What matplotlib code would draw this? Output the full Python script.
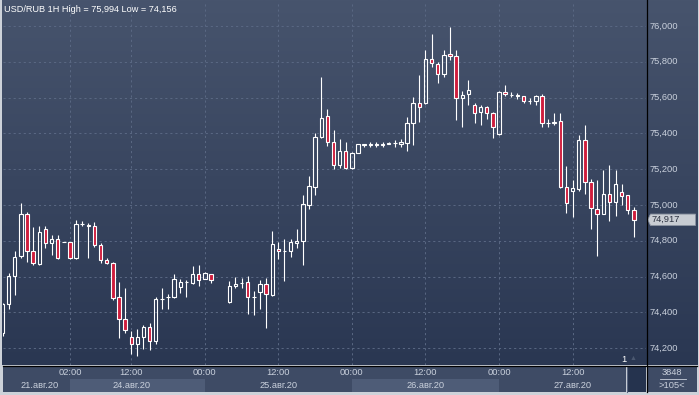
import matplotlib
matplotlib.use("Agg")
import matplotlib.pyplot as plt
import numpy as np
from matplotlib.colors import LinearSegmentedColormap
from matplotlib.lines import Line2D
from matplotlib.patches import Polygon, Rectangle

nan = np.nan

# hourly candles, one slot per hour (two empty slots early on 25 Aug)
opens = [74286, 74445, 74602, 74713, 74951, 74740, 74671, 74866, 74790, 74807,
         74792, 74792, 74704, 74892, 74886, 74885, 74779, 74690, 74673, 74485,
         74361, 74264, 74222, 74264, 74316, 74242, 74474, 74484, 74485, 74539,
         74568, 74565, 74612, 74587, 74612, nan, nan,
         74459, 74545, 74562, 74567, 74486, 74511, 74556, 74496, 74756, 74744,
         74741, 74790, 74801, 75002, 75102, 75378, 75497, 75352, 75224, 75302,
         75208, 75291, 75337, 75337, 75338, 75332, 75343, 75347, 75343, 75345,
         75458, 75567, 75567,
         75815, 75787, 75731, 75843, 75831, 75598, 75618, 75559, 75517, 75549,
         75514, 75397, 75629, 75616, 75612, 75606, 75581, 75581, 75610, 75458,
         75460, 75469, 75100, 75080, 75088, 75364, 75130, 74979, 74951, 75063,
         75016, 75072, 75057, 74974]
highs = [74450, 74621, 74741, 75010, 74960, 74877, 74881, 74885, 74834, 74831,
         74792, 74795, 74918, 74908, 74899, 74903, 74788, 74706, 74684, 74569,
         74535, 74296, 74305, 74328, 74339, 74487, 74535, 74502, 74617, 74587,
         74580, 74658, 74662, 74628, 74615, nan, nan,
         74573, 74597, 74593, 74602, 74519, 74580, 74591, 74853, 74795, 74807,
         74812, 74868, 75053, 75159, 75399, 75716, 75538, 75419, 75371, 75354,
         75298, 75343, 75341, 75350, 75352, 75354, 75350, 75365, 75367, 75492,
         75605, 75727, 75867,
         75954, 75796, 75865, 75994, 75867, 75638, 75699, 75570, 75560, 75555,
         75517, 75634, 75672, 75631, 75625, 75610, 75598, 75614, 75618, 75481,
         75514, 75514, 75215, 75142, 75393, 75449, 75144, 75141, 75196, 75224,
         75193, 75115, 75057, 74986]
lows = [74270, 74417, 74495, 74704, 74680, 74663, 74662, 74762, 74723, 74699,
        74792, 74700, 74699, 74881, 74704, 74765, 74673, 74669, 74470, 74258,
        74286, 74169, 74156, 74197, 74190, 74222, 74417, 74418, 74481, 74506,
        74487, 74561, 74548, 74584, 74565, nan, nan,
        74453, 74537, 74537, 74392, 74387, 74420, 74314, 74491, 74699, 74576,
        74710, 74760, 74663, 74979, 75055, 75372, 75330, 75198, 75209, 75202,
        75202, 75290, 75326, 75322, 75322, 75325, 75340, 75326, 75321, 75304,
        75337, 75462, 75564,
        75768, 75679, 75712, 75809, 75475, 75434, 75559, 75456, 75447, 75481,
        75375, 75393, 75610, 75601, 75592, 75567, 75564, 75560, 75438, 75438,
        75447, 75094, 74955, 74932, 75077, 75059, 74866, 74715, 74947, 74910,
        74938, 74999, 74948, 74821]
closes = [74445, 74602, 74710, 74951, 74741, 74673, 74851, 74790, 74812, 74704,
          74792, 74704, 74892, 74893, 74884, 74779, 74690, 74678, 74481, 74361,
          74300, 74222, 74264, 74316, 74242, 74472, 74476, 74486, 74584, 74567,
          74569, 74612, 74580, 74621, 74578, nan, nan,
          74545, 74561, 74563, 74484, 74487, 74561, 74500, 74784, 74745, 74743,
          74792, 74801, 75007, 75103, 75380, 75486, 75352, 75224, 75302, 75208,
          75291, 75341, 75338, 75338, 75337, 75343, 75347, 75348, 75352, 75458,
          75570, 75547, 75815,
          75792, 75731, 75837, 75831, 75598, 75614, 75642, 75514, 75549, 75514,
          75436, 75631, 75620, 75615, 75611, 75581, 75580, 75610, 75456, 75457,
          75462, 75100, 75013, 75096, 75364, 75130, 74985, 74951, 75063, 75016,
          75118, 75052, 74974, 74917]

price_ticks = [74200, 74400, 74600, 74800, 75000, 75200, 75400, 75600, 75800, 76000]
time_slots = [11, 21, 33, 45, 57, 69, 81, 93]
time_labels = ["02:00", "12:00", "00:00", "12:00", "00:00", "12:00", "00:00", "12:00"]
date_slots = [6, 21, 45, 69, 93]
date_labels = ["21.авг.20", "24.авг.20", "25.авг.20", "26.авг.20", "27.авг.20"]
shaded_days = [(11, 33), (57, 81)]

W, H = 699, 395
SLOT = 6.13        # px per hourly slot
X0 = 2.5           # px of slot 0
YLIM = (74106, 76139)

plt.rcParams["font.family"] = ["Liberation Sans", "DejaVu Sans"]

BG_TOP = "#47546d"
BG_BOT = "#2a3752"
GRID = "#5a6883"
RED = "#cf1d3d"
TXT = "#c9d0dc"
STRIP = "#3e4b65"


def px_rect(x0, y0, x1, y1):
    return [x0 / W, 1 - y1 / H, (x1 - x0) / W, (y1 - y0) / H]


def px_to_slot(px):
    return (px - X0) / SLOT


fig = plt.figure(figsize=(W / 100, H / 100), dpi=100, facecolor="#cdd2d9")

# gradient background behind the chart and price panel
bg = fig.add_axes(px_rect(2, 0, 698, 365))
cmap = LinearSegmentedColormap.from_list("bg", [BG_BOT, BG_TOP])
bg.imshow(np.linspace(1, 0, 256).reshape(-1, 1), cmap=cmap, aspect="auto",
          extent=[0, 1, 0, 1])
bg.axis("off")

# main candle axes
ax = fig.add_axes(px_rect(3, 1, 646, 365))
ax.set_facecolor("none")
ax.set_xlim(px_to_slot(3), px_to_slot(646))
ax.set_ylim(*YLIM)
ax.set_yticks(price_ticks)
ax.set_xticks(time_slots)
ax.grid(True, color=GRID, linestyle=(0, (2.2, 3)), linewidth=0.7)
ax.tick_params(length=0, labelbottom=False, labelleft=False)
for s in ax.spines.values():
    s.set_visible(False)

bw = 0.56
for i, (o, h, l, c) in enumerate(zip(opens, highs, lows, closes)):
    if np.isnan(o):
        continue
    top, bot = max(o, c), min(o, c)
    ax.plot([i, i], [top, h], color="white", lw=0.8, solid_capstyle="butt", zorder=3)
    ax.plot([i, i], [bot, l], color="white", lw=0.8, solid_capstyle="butt", zorder=3)
    fc = RED if c < o else "none"
    ax.add_patch(Rectangle((i - bw / 2, bot), bw, top - bot, facecolor=fc,
                           edgecolor="white", linewidth=0.8, zorder=4))

# right price panel
axr = fig.add_axes(px_rect(647, 1, 697, 365))
axr.set_facecolor("none")
axr.set_xlim(0, 50)
axr.set_ylim(*YLIM)
axr.axis("off")
for v in price_ticks:
    axr.text(3, v, f"{v:,}", ha="left", va="center", fontsize=6.7, color=TXT)

last = closes[-1]
half = (YLIM[1] - YLIM[0]) / 364 * 5.7
axr.add_patch(Polygon([[0.8, last], [3.5, last + half], [48.5, last + half],
                       [48.5, last - half], [3.5, last - half]], closed=True,
                      facecolor="#c8ccd3", edgecolor="#8d95a3", lw=0.6, zorder=5))
axr.text(4.5, last, f"{last:,}", ha="left", va="center", fontsize=6.7,
         color="#2b3140", zorder=6)

# bottom time strip
axb = fig.add_axes(px_rect(3, 366, 626, 392))
axb.set_facecolor(STRIP)
axb.set_xlim(px_to_slot(3), px_to_slot(626))
axb.set_ylim(0, 1)
axb.axis("off")
axb.add_patch(Rectangle((px_to_slot(3), 0), 200, 1, facecolor=STRIP, zorder=0))
for a, b in shaded_days:
    axb.add_patch(Rectangle((a, 0), b - a, 0.5, facecolor="#4e5c77", zorder=1))
for s, t in zip(time_slots, time_labels):
    axb.text(s, 0.74, t, ha="center", va="center", fontsize=6.7, color=TXT, zorder=2)
for s, t in zip(date_slots, date_labels):
    axb.text(s, 0.26, t, ha="center", va="center", fontsize=6.7, color=TXT, zorder=2)

# scroll box and counter box
axs = fig.add_axes(px_rect(627, 366, 646, 392))
axs.set_facecolor("#25334e")
axs.set_xticks([])
axs.set_yticks([])
for s in axs.spines.values():
    s.set_visible(False)
axs.spines["left"].set_visible(True)
axs.spines["left"].set_color("#5a6680")

axc = fig.add_axes(px_rect(647, 366, 697, 392))
axc.set_facecolor(STRIP)
axc.set_xlim(0, 1)
axc.set_ylim(0, 1)
axc.set_xticks([])
axc.set_yticks([])
for s in axc.spines.values():
    s.set_visible(False)
axc.text(0.5, 0.76, "3848", ha="center", va="center", fontsize=6.7, color=TXT)
axc.plot([0.25, 0.77], [0.5, 0.5], color=TXT, lw=0.6)
axc.text(0.5, 0.26, ">105<", ha="center", va="center", fontsize=6.7, color=TXT)

fig.text(624 / W, 1 - 359 / H, "1", ha="center", va="center", fontsize=6.7, color="white")
fig.text(633 / W, 1 - 359 / H, "\u25b2", ha="center", va="center", fontsize=5, color="#4b5870")

# separators
fig.add_artist(Line2D([3 / W, 697 / W], [1 - 365.5 / H, 1 - 365.5 / H],
                      color="black", lw=0.9))
fig.add_artist(Line2D([646.5 / W, 646.5 / W], [1 - 0 / H, 1 - 392 / H],
                      color="black", lw=0.9))

title = f"USD/RUB 1H High = {np.nanmax(highs):,.0f} Low = {np.nanmin(lows):,.0f}"
fig.text(4 / W, 1 - 9 / H, title, ha="left", va="center", fontsize=6.6, color="white")

fig.savefig("out.png", dpi=100, facecolor=fig.get_facecolor())
